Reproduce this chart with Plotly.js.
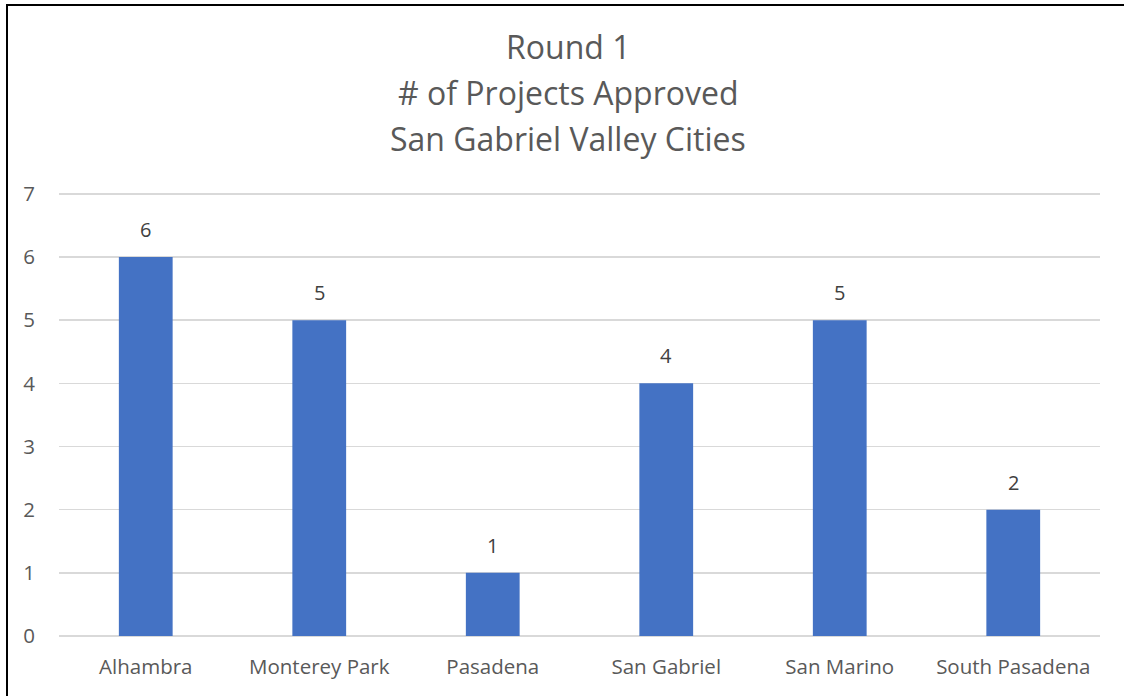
<!DOCTYPE html>
<html>
<head>
<meta charset="utf-8">
<script src="https://cdn.plot.ly/plotly-3.0.1.min.js"></script>
<style>
  html, body { margin: 0; padding: 0; background: #fff; }
  #wrap { position: relative; width: 1124px; height: 696px; overflow: hidden; }
  #chart { position: absolute; left: 0; top: 0; width: 1124px; height: 696px; }
  #frame { position: absolute; left: 6px; top: 4px; width: 1130px; height: 700px;
           border-left: 2px solid #000; border-top: 2px solid #000; pointer-events: none; }
</style>
</head>
<body>
<div id="wrap">
  <div id="chart"></div>
  <div id="frame"></div>
</div>
<script>
const cities = ["Alhambra", "Monterey Park", "Pasadena", "San Gabriel", "San Marino", "South Pasadena"];
const projectsApproved = [6, 5, 1, 4, 5, 2];
const titleLines = ["Round 1", "# of Projects Approved", "San Gabriel Valley Cities"];
const yTicks = [0, 1, 2, 3, 4, 5, 6, 7];

const FONT = "'Open Sans', Lato, sans-serif";
const GREY = "#595959";

const trace = {
  type: "bar",
  x: cities,
  y: projectsApproved,
  marker: { color: "#4472C4", line: { width: 0 } },
  hoverinfo: "x+y"
};

const valueLabels = cities.map((c, i) => ({
  x: c, y: projectsApproved[i], xref: "x", yref: "y",
  text: String(projectsApproved[i]), showarrow: false,
  yanchor: "bottom", yshift: 12,
  font: { family: FONT, size: 20, color: "#404040" }
}));

// title line centres at pixel rows 48, 94, 140 (plot area: top 192, height 444)
const titleYs = [1.3275, 1.2235, 1.1195];
const titleAnn = titleLines.map((t, i) => ({
  x: 0.489, y: titleYs[i], xref: "paper", yref: "paper",
  text: t, showarrow: false, xanchor: "center", yanchor: "middle",
  font: { family: FONT, size: 32, color: GREY }
}));

const layout = {
  width: 1124, height: 696,
  margin: { l: 59, r: 24, t: 192, b: 60 },
  paper_bgcolor: "#fff", plot_bgcolor: "#fff",
  showlegend: false,
  bargap: 0.69,
  font: { family: FONT, color: GREY },
  xaxis: {
    type: "category",
    showgrid: false, showline: false, zeroline: false, ticks: "",
    tickfont: { family: FONT, size: 20.5, color: GREY },
    ticklabelstandoff: 16
  },
  yaxis: {
    range: [0, 7.03],
    tickvals: yTicks,
    ticktext: yTicks.map(String),
    showgrid: true, gridcolor: "#d9d9d9", gridwidth: 1.5,
    zeroline: true, zerolinecolor: "#d9d9d9", zerolinewidth: 1.5,
    showline: false, ticks: "",
    tickfont: { family: FONT, size: 20.5, color: GREY },
    ticklabelstandoff: 23
  },
  annotations: titleAnn.concat(valueLabels)
};

Plotly.newPlot("chart", [trace], layout, { displayModeBar: false, staticPlot: true });
</script>
</body>
</html>
